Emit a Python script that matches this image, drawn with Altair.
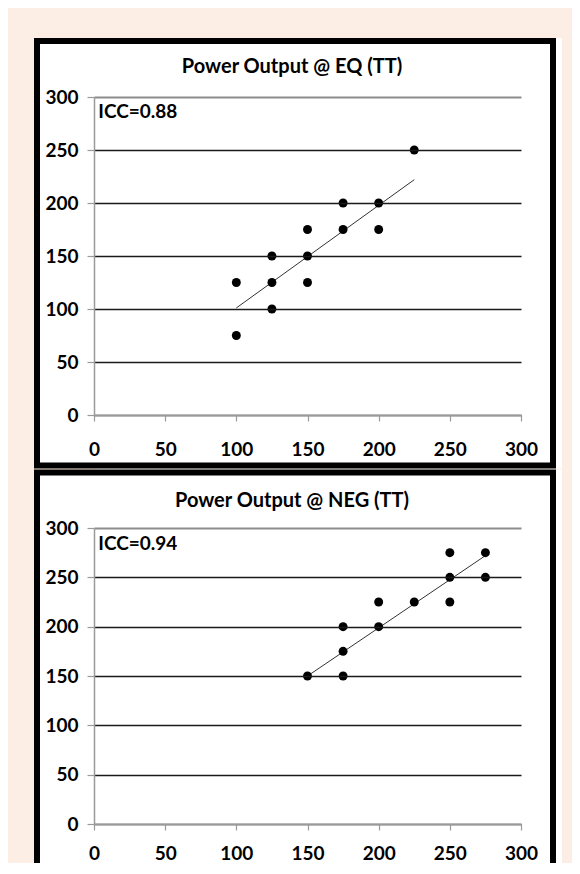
import altair as alt
import pandas as pd

# ---- data ----
eq_x = [100, 100, 125, 125, 125, 150, 150, 150, 175, 175, 200, 200, 225]
eq_y = [125, 75, 150, 125, 100, 175, 150, 125, 200, 175, 200, 175, 250]
eq_trend_x = [100, 225]
eq_trend_y = [101, 222]
eq_title = "Power Output @ EQ (TT)"
eq_icc = "ICC=0.88"

neg_x = [150, 175, 175, 175, 200, 200, 225, 250, 250, 250, 275, 275]
neg_y = [150, 200, 175, 150, 225, 200, 225, 275, 250, 225, 275, 250]
neg_trend_x = [150, 275]
neg_trend_y = [150, 272]
neg_title = "Power Output @ NEG (TT)"
neg_icc = "ICC=0.94"

ticks = [0, 50, 100, 150, 200, 250, 300]

FONT = "Lato"
PEACH = "#FDEEE5"
FS = 19


def panel(xs, ys, tx, ty, title, icc, icc_y, height, frame_y, frame_y2, title_y, xpad):
    pts = pd.DataFrame({"x": xs, "y": ys})
    trend = pd.DataFrame({"x": tx, "y": ty})
    lab = pd.DataFrame({"x": [3], "y": [icc_y], "t": [icc]})
    one = pd.DataFrame({"t": [title]})

    xscale = alt.Scale(domain=[0, 300], nice=False, zero=False)
    yscale = alt.Scale(domain=[0, 300], nice=False, zero=False)
    xaxis = alt.Axis(values=ticks, title=None, grid=False, domainColor="#9a9a9a",
                     domainWidth=1.5, tickColor="#9a9a9a", tickSize=6, tickWidth=1.2,
                     labelFont=FONT, labelFontSize=FS, labelFontWeight="bold",
                     labelColor="#000", labelPadding=xpad, labelFlush=False, zindex=1)
    yaxis = alt.Axis(values=ticks, title=None, grid=True,
                     gridColor=alt.condition(alt.datum.value == 300, alt.value("#8c8c8c"), alt.value("#1a1a1a")),
                     gridWidth=alt.condition(alt.datum.value == 300, alt.value(2), alt.value(1.3)),
                     domainColor="#9a9a9a", domainWidth=1.5, tickColor="#9a9a9a",
                     tickSize=7, tickWidth=1.2, labelFont=FONT, labelFontSize=FS,
                     labelFontWeight="bold", labelColor="#000", labelPadding=9,
                     labelFlush=False, zindex=1)

    strip = alt.Chart(one).mark_rect(fill="white", strokeWidth=0).encode(
        x=alt.value(0), x2=alt.value(468), y=alt.value(frame_y - 3), y2=alt.value(frame_y2 + 3))
    frame = alt.Chart(one).mark_rect(fill="white", stroke="black", strokeWidth=6).encode(
        x=alt.value(-57), x2=alt.value(459), y=alt.value(frame_y), y2=alt.value(frame_y2))
    head = alt.Chart(one).mark_text(align="center", baseline="middle", font=FONT,
                                    fontSize=20, fontWeight="bold", color="#000").encode(
        x=alt.value(198), y=alt.value(title_y), text="t:N")

    trend_line = alt.Chart(trend).mark_line(color="#333333", strokeWidth=1).encode(
        x=alt.X("x:Q", scale=xscale, axis=xaxis),
        y=alt.Y("y:Q", scale=yscale, axis=yaxis))
    points = alt.Chart(pts).mark_circle(color="black", opacity=1, size=80).encode(
        x=alt.X("x:Q", scale=xscale), y=alt.Y("y:Q", scale=yscale))
    text = alt.Chart(lab).mark_text(align="left", baseline="middle", font=FONT,
                                    fontSize=FS, fontWeight="bold", color="#000").encode(
        x=alt.X("x:Q", scale=xscale), y=alt.Y("y:Q", scale=yscale), text="t:N")

    return alt.layer(strip, frame, head, trend_line, points, text).properties(
        width=427, height=height)


top = panel(eq_x, eq_y, eq_trend_x, eq_trend_y, eq_title, eq_icc, 286, 318, -56, 368.5, -30, 19)
bottom = panel(neg_x, neg_y, neg_trend_x, neg_trend_y, neg_title, neg_icc, 284, 296, -55.5, 348, -27, 14)

chart = alt.vconcat(top, bottom, spacing=0).properties(
    background=PEACH,
    padding={"left": 26, "top": 30, "right": 10, "bottom": -16},
).configure_view(stroke=None)

chart.save("out.html", embed_options={"renderer": "svg", "actions": False})
